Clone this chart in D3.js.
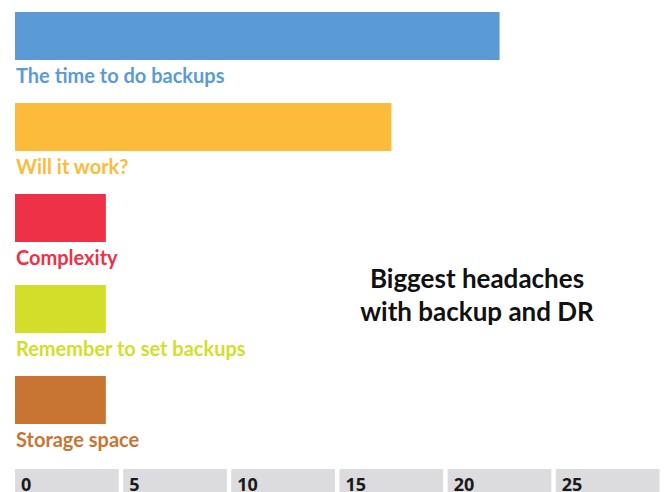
<!DOCTYPE html>
<html>
<head>
<meta charset="utf-8">
<script src="https://cdn.jsdelivr.net/npm/d3@7"></script>
<style>
  html, body { margin: 0; padding: 0; background: #fff; }
  svg { display: block; }
</style>
</head>
<body>
<svg id="chart" width="664" height="492"></svg>
<script>
const categories = ["The time to do backups", "Will it work?", "Complexity", "Remember to set backups", "Storage space"];
const values = [22.4, 17.4, 4.2, 4.2, 4.2];
const colors = ["#5b9bd5", "#fdbb3b", "#ee3147", "#d2de2a", "#c87533"];
const tickValues = [0, 5, 10, 15, 20, 25];
const titleLines = ["Biggest headaches", "with backup and DR"];

const svg = d3.select("#chart");
const W = 664, H = 492;

const x = d3.scaleLinear().domain([0, 30]).range([15, 664]);
const y = d3.scaleBand().domain(categories).range([12, 467]).paddingInner(0).paddingOuter(0);
const barH = 48;

const g = svg.append("g");
g.selectAll("rect.bar").data(categories).join("rect")
  .attr("class", "bar")
  .attr("x", x(0))
  .attr("y", d => y(d))
  .attr("width", (d, i) => x(values[i]) - x(0))
  .attr("height", barH)
  .attr("fill", (d, i) => colors[i]);

g.selectAll("text.lbl").data(categories).join("text")
  .attr("class", "lbl")
  .attr("x", x(0) + 1)
  .attr("y", d => y(d) + barH + 23)
  .attr("fill", (d, i) => colors[i])
  .style("font-family", "Lato, 'Open Sans', sans-serif")
  .style("font-weight", "bold")
  .style("font-size", "20px")
  .text(d => d);

// axis cells
const step = x(5) - x(0);
const ax = svg.append("g");
ax.selectAll("rect.cell").data(tickValues).join("rect")
  .attr("class", "cell")
  .attr("x", d => x(d))
  .attr("y", 469)
  .attr("width", step - 4.5)
  .attr("height", H - 469)
  .attr("fill", "#dcdcde");
ax.selectAll("text.tick").data(tickValues).join("text")
  .attr("class", "tick")
  .attr("x", d => x(d) + 6)
  .attr("y", 491)
  .attr("fill", "#1a1a1a")
  .style("font-family", "'Open Sans', sans-serif")
  .style("font-weight", "bold")
  .style("font-size", "18px")
  .text(d => d);

// title
svg.append("text")
  .attr("x", 477)
  .attr("y", 288)
  .attr("text-anchor", "middle")
  .style("font-family", "Lato, 'Open Sans', sans-serif")
  .style("font-weight", "bold")
  .style("font-size", "26px")
  .attr("fill", "#111")
  .selectAll("tspan").data(titleLines).join("tspan")
  .attr("x", 477)
  .attr("dy", (d, i) => i === 0 ? 0 : 33)
  .text(d => d);
</script>
</body>
</html>
